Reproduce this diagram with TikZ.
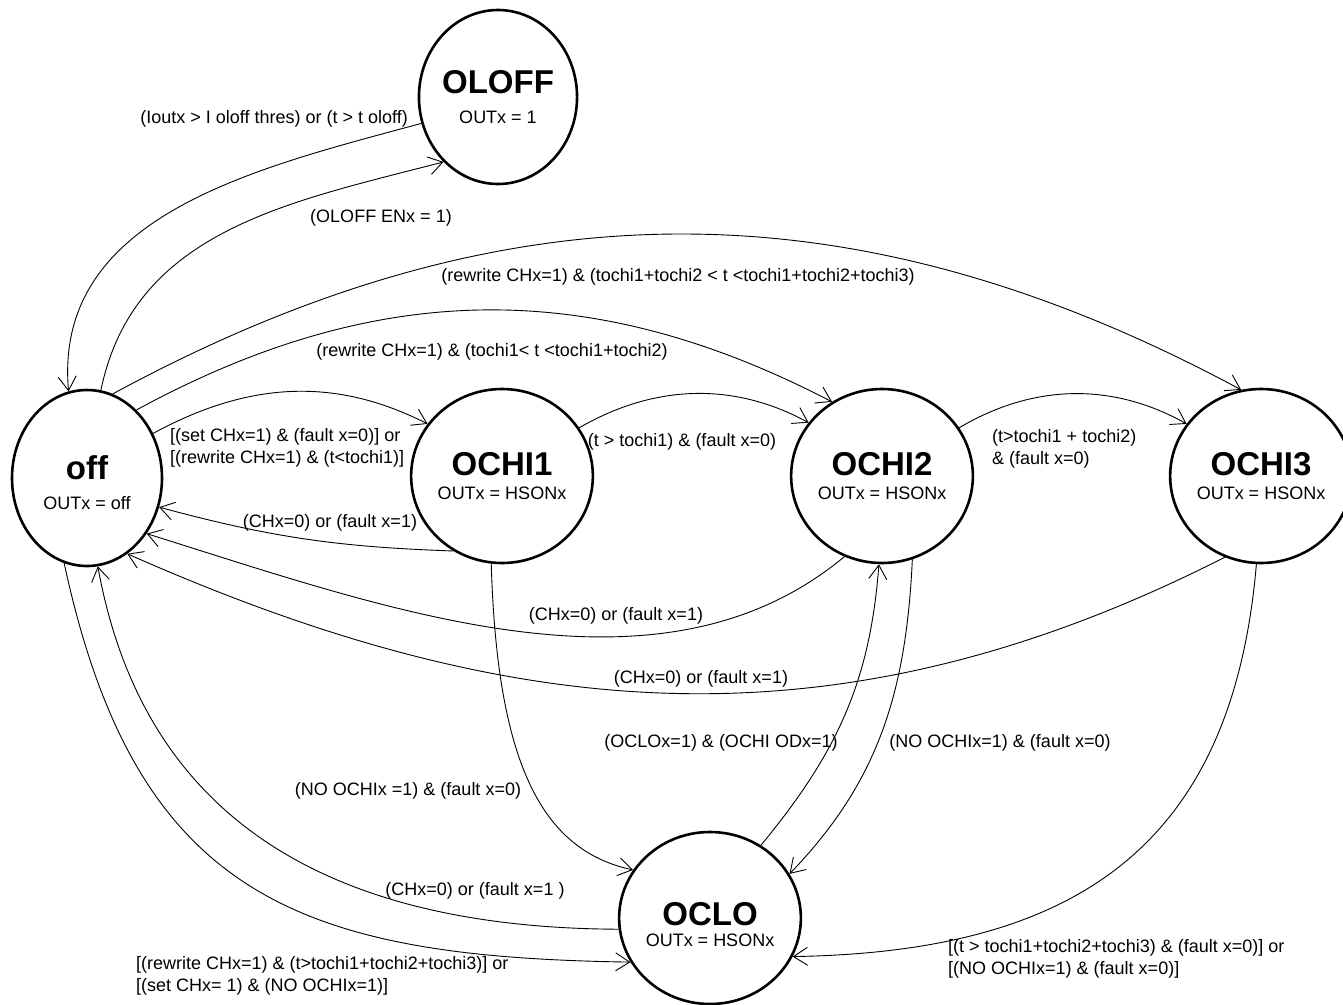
\documentclass[tikz,border=0pt]{standalone}
\usepackage{fontspec}
\setmainfont{Liberation Sans}
\usetikzlibrary{arrows.meta,shapes.geometric}
\newcommand\stTitle{\fontsize{33}{36}\selectfont\bfseries}
\newcommand\stSub{\fontsize{18}{22}\selectfont\mdseries}
\begin{document}
\begin{tikzpicture}[x=1pt,y=-1pt,
  fsm/.style={ellipse, draw, line width=2.6pt, minimum width=150pt, minimum height=174pt, inner sep=0pt, align=center, font=\fontsize{18}{22}\selectfont},
  lbl/.style={font=\fontsize{18}{22}\selectfont, inner sep=0pt, align=left},
  conn/.style={line width=0.9pt, -{Straight Barb[length=14pt,width=18pt]}}]
\useasboundingbox (0,0) rectangle (1343,1004);
\fill[white] (0,0) rectangle (1343,1004);

% states
\node[fsm] (OLOFF) at (498,97) {\stTitle OLOFF\\[8pt]\stSub OUTx = 1};
\node[fsm, minimum height=176pt] (off) at (87,478) {\stTitle\rule{0pt}{33pt}off\\[8pt]\stSub OUTx = off};
\node[fsm] (OCHI1) at (502,476) {\stTitle OCHI1\\[2pt]\stSub OUTx = HSONx};
\node[fsm] (OCHI2) at (882,476) {\stTitle OCHI2\\[2pt]\stSub OUTx = HSONx};
\node[fsm, minimum width=152pt] (OCHI3) at (1261,476) {\stTitle OCHI3\\[2pt]\stSub OUTx = HSONx};
\node[fsm, minimum height=172pt] (OCLO) at (710,918) {\stTitle\rule{0pt}{36pt}OCLO\\[-1pt]\stSub OUTx = HSONx};

% connectors
\draw[conn] (OLOFF.199.6) .. controls (257,168) and (53,215) .. (off.102);
\draw[conn] (off.81.8) .. controls (134,230) and (290,202) .. (OLOFF.230.5);
\draw[conn] (off.73.5) .. controls (502,183) and (851,180) .. (OCHI3.103.3);
\draw[conn] (off.54) .. controls (379,278) and (594,278) .. (OCHI2.124.6);
\draw[conn] (off.34.4) .. controls (253,379) and (339,379) .. (OCHI1.145.5);
\draw[conn] (OCHI1.237.6) .. controls (340,547) and (273,538) .. (off.338);
\draw[conn] (OCHI1.32.2) .. controls (655,384) and (734,382) .. (OCHI2.144.7);
\draw[conn] (OCHI2.32.9) .. controls (1033,384) and (1112,382) .. (OCHI3.145.1);
\draw[conn] (OCHI2.245.6) .. controls (660,710) and (391,610) .. (off.317.5);
\draw[conn] (OCHI3.246.7) .. controls (843,751) and (521,728) .. (off.298);
\draw[conn] (OCHI1.263.2) .. controls (497,760) and (540,850) .. (OCLO.148.9);
\draw[conn] (OCLO.55.6) .. controls (837,753) and (870,682) .. (OCHI2.268.7);
\draw[conn] (OCHI2.290.3) .. controls (906,695) and (877,783) .. (OCLO.29);
\draw[conn] (OCHI3.267.4) .. controls (1232,850) and (1072,952) .. (OCLO.335.3);
\draw[conn] (OCLO.187.6) .. controls (355,928) and (147,838) .. (off.277.5);
\draw[conn] (off.255.5) .. controls (136,897) and (299,957) .. (OCLO.209.1);

% labels
\node[lbl, anchor=east] (l1) at (408,119) {(Ioutx > I oloff thres) or (t > t oloff)};
\node[lbl] (l2) at (381,218) {(OLOFF ENx = 1)};
\node[lbl] (l3) at (678,277) {(rewrite CHx=1) \& (tochi1+tochi2 < t <tochi1+tochi2+tochi3)};
\node[lbl] (l4) at (492,352) {(rewrite CHx=1) \& (tochi1< t <tochi1+tochi2)};
\node[lbl, anchor=west] (l5) at (170,448) {[(set CHx=1) \& (fault x=0)] or\\{}[(rewrite CHx=1) \& (t<tochi1)]};
\node[lbl] (l6) at (330,523) {(CHx=0) or (fault x=1)};
\node[lbl] (l7) at (682,442) {(t > tochi1) \& (fault x=0)};
\node[lbl, anchor=west] (l8) at (992,449) {(t>tochi1 + tochi2)\\\& (fault x=0)};
\node[lbl] (l9) at (616,616) {(CHx=0) or (fault x=1)};
\node[lbl] (l10) at (701,679) {(CHx=0) or (fault x=1)};
\node[lbl] (l11) at (408,791) {(NO OCHIx =1) \& (fault x=0)};
\node[lbl] (l12) at (721,743) {(OCLOx=1) \& (OCHI ODx=1)};
\node[lbl] (l13) at (1000,743) {(NO OCHIx=1) \& (fault x=0)};
\node[lbl, anchor=west] (l14) at (948,959) {[(t > tochi1+tochi2+tochi3) \& (fault x=0)] or\\{}[(NO OCHIx=1) \& (fault x=0)]};
\node[lbl] (l15) at (475,891) {(CHx=0) or (fault x=1 )};
\node[lbl, anchor=west] (l16) at (136,976) {[(rewrite CHx=1) \& (t>tochi1+tochi2+tochi3)] or\\{}[(set CHx= 1) \& (NO OCHIx=1)]};
\end{tikzpicture}
\end{document}
